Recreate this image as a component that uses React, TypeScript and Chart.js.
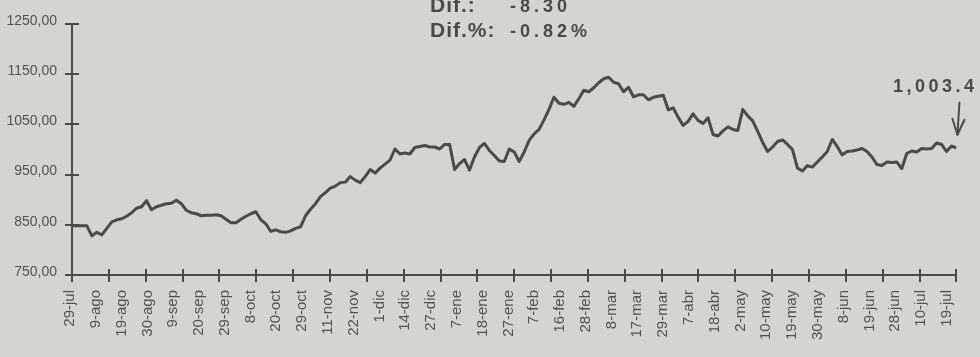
import React, { useEffect, useRef } from "react";
import { Chart, registerables } from "chart.js";

Chart.register(...registerables);

// Index closing values (one sample per step along the time axis)
const indexValues: number[] = [
  848, 848, 848, 848, 828, 835, 830, 843, 856, 860,
  862, 867, 874, 883, 886, 898, 880, 886, 889, 892,
  893, 899, 892, 879, 874, 872, 868, 869, 869, 870,
  868, 861, 854, 854, 861, 867, 872, 876, 860, 852,
  837, 840, 836, 835, 838, 843, 846, 868, 881, 892,
  906, 914, 923, 927, 934, 935, 946, 939, 934, 946,
  960, 953, 963, 971, 979, 1001, 991, 993, 991, 1004,
  1006, 1008, 1005, 1005, 1001, 1010, 1010, 960, 972, 980,
  959, 985, 1004, 1012, 998, 988, 977, 976, 1001, 995,
  976, 995, 1018, 1031, 1040, 1059, 1080, 1104, 1092, 1090,
  1094, 1086, 1101, 1118, 1115, 1123, 1133, 1141, 1144, 1134,
  1131, 1115, 1124, 1105, 1109, 1109, 1099, 1104, 1106, 1108,
  1079, 1083, 1064, 1048, 1056, 1071, 1058, 1052, 1063, 1030,
  1027, 1037, 1045, 1040, 1038, 1080, 1067, 1057, 1036, 1014,
  996, 1005, 1016, 1019, 1010, 1000, 963, 957, 968, 965,
  975, 985, 996, 1020, 1006, 989, 996, 997, 999, 1002,
  996, 985, 970, 968, 975, 974, 975, 962, 992, 997,
  995, 1002, 1001, 1002, 1013, 1010, 996, 1007, 1003.4,
];

const dateLabels: string[] = [
  "29-jul", "9-ago", "19-ago", "30-ago", "9-sep", "20-sep", "29-sep", "8-oct",
  "20-oct", "29-oct", "11-nov", "22-nov", "1-dic", "14-dic", "27-dic", "7-ene",
  "18-ene", "27-ene", "7-feb", "16-feb", "28-feb", "8-mar", "17-mar", "29-mar",
  "7-abr", "18-abr", "2-may", "10-may", "19-may", "30-may", "8-jun", "19-jun",
  "28-jun", "10-jul", "19-jul",
];

const yTickValues: number[] = [750, 850, 950, 1050, 1150, 1250];

const headerLine1Label = "Dif.:";
const headerLine1Value = "-8.30";
const headerLine2Label = "Dif.%:";
const headerLine2Value = "-0.82%";
const lastValueLabel = "1,003.4";

const INK = "#4a4a48";
const TEXT = "#525250";
const PAPER = "#d6d4cf";
const FONT = "'Liberation Sans', Arial, Helvetica, sans-serif";

const tickMarkCount = 25;
const labelStep = 5.19;

export default function App() {
  const canvasRef = useRef<HTMLCanvasElement | null>(null);

  useEffect(() => {
    document.body.style.margin = "0";
    const canvas = canvasRef.current;
    if (!canvas) return;
    const lastIndex = indexValues.length - 1;

    const decorPlugin = {
      id: "decor",
      afterDraw(chart: any) {
        const ctx = chart.ctx;
        const xs = chart.scales.x;
        const ys = chart.scales.y;
        const area = chart.chartArea;
        ctx.save();
        ctx.strokeStyle = INK;
        ctx.lineWidth = 2;
        // y-axis tick marks crossing the axis
        yTickValues.forEach((v) => {
          const y = Math.round(ys.getPixelForValue(v));
          ctx.beginPath();
          ctx.moveTo(area.left - 7, y);
          ctx.lineTo(area.left + 7, y);
          ctx.stroke();
        });
        // x-axis tick marks crossing the axis
        for (let k = 0; k < tickMarkCount; k++) {
          const x = Math.round(xs.getPixelForValue((k * lastIndex) / (tickMarkCount - 1)));
          ctx.beginPath();
          ctx.moveTo(x, area.bottom - 6);
          ctx.lineTo(x, area.bottom + 7);
          ctx.stroke();
        }

        // header texts
        ctx.fillStyle = INK;
        ctx.textBaseline = "alphabetic";
        ctx.textAlign = "left";
        (ctx as any).letterSpacing = "1px";
        ctx.font = `bold 21px ${FONT}`;
        ctx.fillText(headerLine1Label, 430, 12);
        ctx.fillText(headerLine2Label, 430, 37);
        (ctx as any).letterSpacing = "4px";
        ctx.font = `bold 18px ${FONT}`;
        ctx.fillText(headerLine1Value, 510, 12);
        ctx.fillText(headerLine2Value, 510, 37);

        // last value annotation
        (ctx as any).letterSpacing = "3.5px";
        ctx.font = `bold 18px ${FONT}`;
        ctx.fillText(lastValueLabel, 893, 92);
        (ctx as any).letterSpacing = "0px";

        // arrow pointing at the last value
        const tipX = xs.getPixelForValue(lastIndex) + 1;
        const tipY = ys.getPixelForValue(indexValues[lastIndex]) - 13;
        ctx.lineWidth = 2;
        ctx.lineCap = "round";
        ctx.lineJoin = "round";
        ctx.beginPath();
        ctx.moveTo(tipX + 2, tipY - 32);
        ctx.lineTo(tipX, tipY);
        ctx.stroke();
        ctx.beginPath();
        ctx.moveTo(tipX - 5, tipY - 16);
        ctx.lineTo(tipX, tipY);
        ctx.lineTo(tipX + 7, tipY - 15);
        ctx.stroke();
        ctx.restore();
      },
    };

    const chart = new Chart(canvas, {
      type: "line",
      data: {
        datasets: [
          {
            data: indexValues.map((v, i) => ({ x: i, y: v })),
            borderColor: INK,
            borderWidth: 3,
            pointRadius: 0,
            tension: 0,
            fill: false,
            borderJoinStyle: "round",
          },
        ],
      },
      options: {
        responsive: false,
        animation: false,
        events: [],
        layout: { padding: { top: 24, right: 18, left: 0, bottom: 0 } },
        plugins: {
          legend: { display: false },
          tooltip: { enabled: false },
        },
        scales: {
          x: {
            type: "linear",
            min: 0,
            max: lastIndex,
            grid: { display: false, drawTicks: false },
            border: { display: true, color: INK, width: 2 },
            afterBuildTicks: (axis: any) => {
              axis.ticks = dateLabels.map((_, i) => ({ value: i * labelStep - 0.4 }));
            },
            afterFit: (axis: any) => {
              axis.height = 82;
            },
            ticks: {
              autoSkip: false,
              minRotation: 90,
              maxRotation: 90,
              padding: 15,
              color: TEXT,
              font: { family: FONT, size: 15 },
              callback: (_v: any, i: number) => dateLabels[i],
            },
          },
          y: {
            type: "linear",
            min: 750,
            max: 1250,
            grid: { display: false, drawTicks: false },
            border: { display: true, color: INK, width: 2 },
            afterBuildTicks: (axis: any) => {
              axis.ticks = yTickValues.map((v) => ({ value: v }));
            },
            afterFit: (axis: any) => {
              axis.width = 72;
            },
            ticks: {
              padding: 15,
              labelOffset: -3,
              color: TEXT,
              font: { family: FONT, size: 14 },
              callback: (v: any) => `${v},00`,
            },
          },
        },
      },
      plugins: [decorPlugin],
    } as any);

    return () => chart.destroy();
  }, []);

  return (
    <div
      style={{
        position: "fixed",
        left: 0,
        top: 0,
        width: 980,
        height: 357,
        background: PAPER,
        overflow: "hidden",
      }}
    >
      <canvas ref={canvasRef} width={980} height={357} style={{ display: "block" }} />
    </div>
  );
}
